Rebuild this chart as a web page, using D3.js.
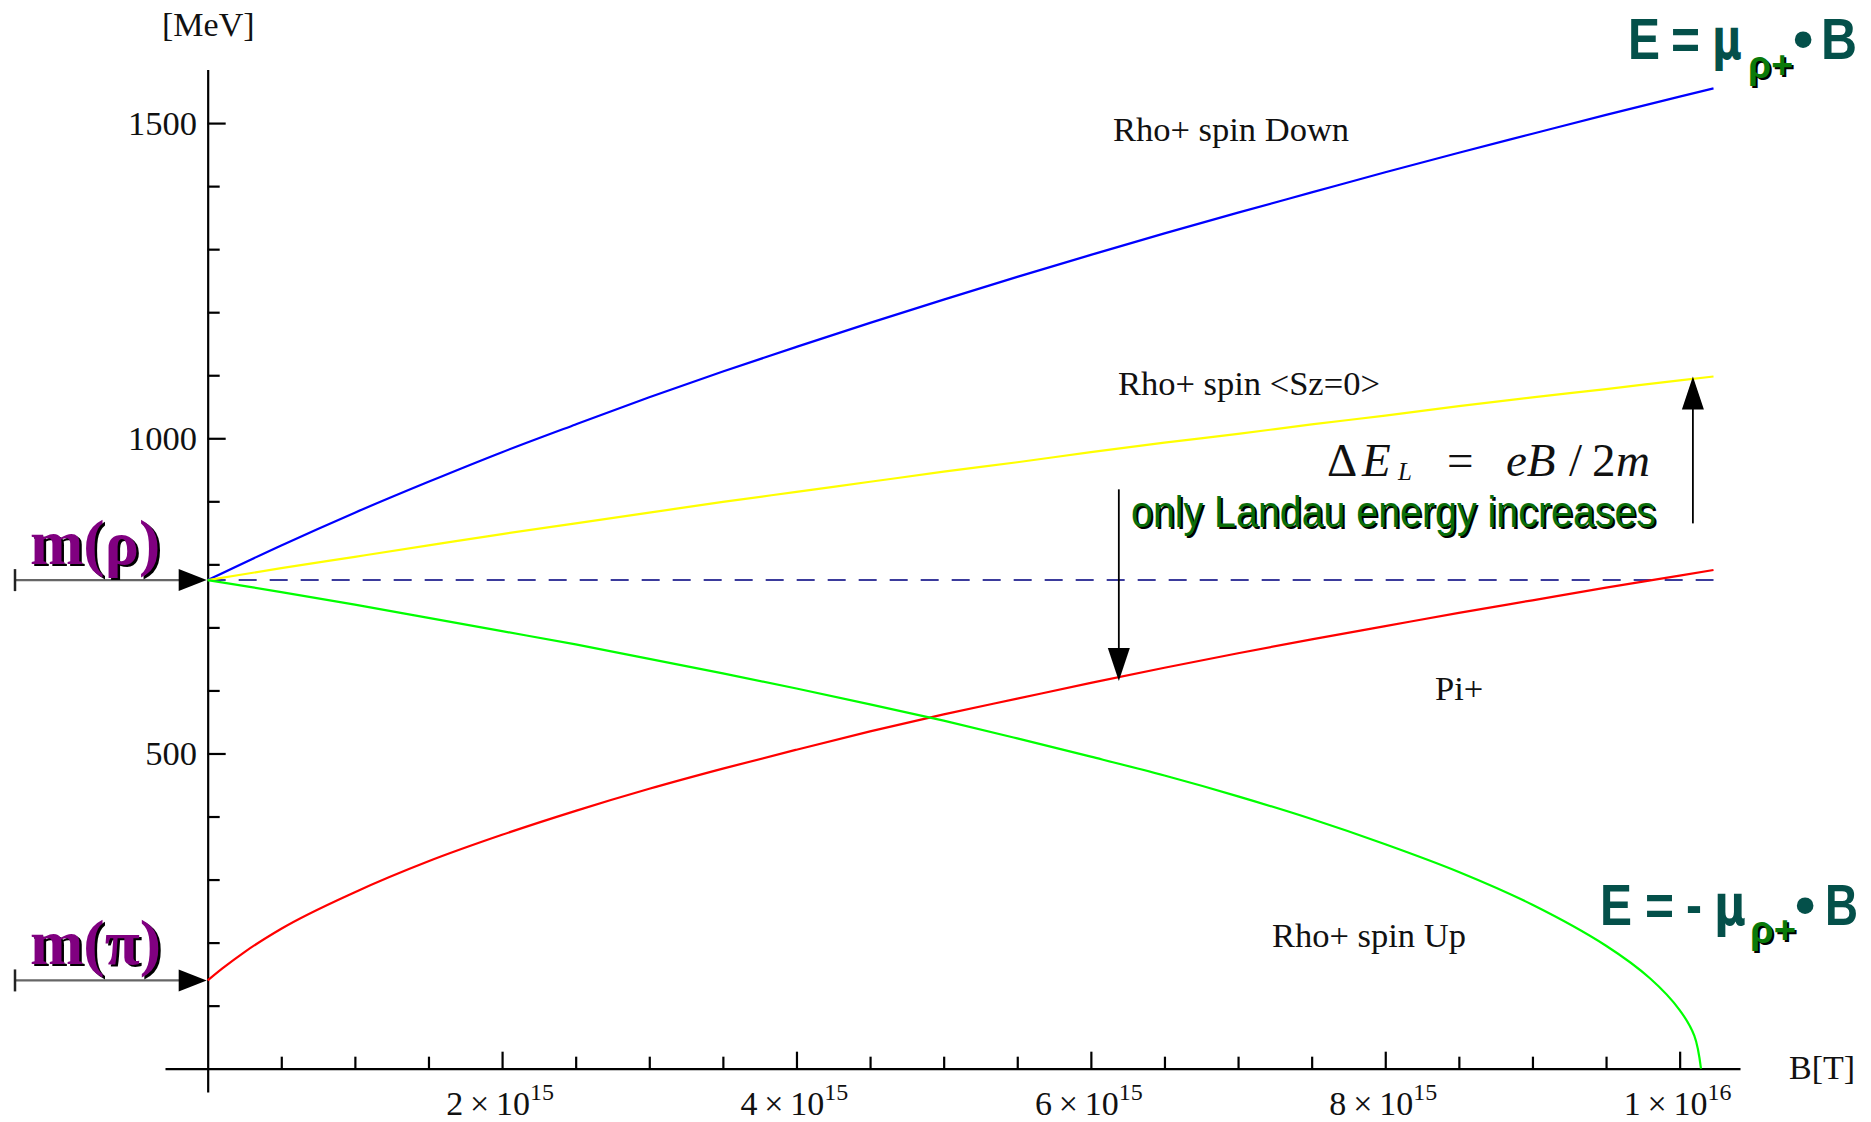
<!DOCTYPE html>
<html><head><meta charset="utf-8">
<script src="https://cdn.jsdelivr.net/npm/d3@7"></script>
<style>
html,body{margin:0;padding:0;background:#fff;}
svg{display:block;}
</style></head>
<body>
<svg id="chart" width="1871" height="1122"></svg>
<script>
// ---- data (B in units of 1e15 T, energies in MeV) ----
const bGrid = [0,0.5,1,1.5,2,2.5,3,3.5,4,4.5,5,5.5,6,6.5,7,7.5,8,8.5,9,9.5,10,10.23];
const rhoSpinDown = [775,830,882,931,978,1022,1065,1106,1145,1183,1220,1256,1291,1325,1358,1390,1422,1453,1483,1513,1542,1555];
const rhoSpinZero = [775,794,812,830,848,865,882,899,915,931,947,962,978,993,1007,1022,1036,1051,1065,1078,1092,1098];
const piPlusB = [0,0.1,0.25,0.5,1,1.5,2,2.5,3,3.5,4,4.5,5,5.5,6,6.5,7,7.5,8,8.5,9,9.5,10,10.23];
const piPlus = [140,159,185,222,280,329,371,409,444,476,506,535,562,587,612,636,659,681,702,723,743,763,782,791];
const upB = [0,0.5,1,1.5,2,2.5,3,3.5,4,4.5,5,5.5,6,6.5,7,7.5,8,8.5,9,9.5,9.8,10,10.1,10.145];
const rhoSpinUp = [775,756,736,715,694,673,650,627,603,578,552,524,495,465,432,396,356,312,260,195,143,93,52,0];
const rhoMass = 775;
const piMass = 140;
const xMajorTicks = [2,4,6,8,10];
const xTickBase = ["2","4","6","8","1"];
const xTickExp = ["15","15","15","15","16"];
const xMinorTicks = [0.5,1,1.5,2.5,3,3.5,4.5,5,5.5,6.5,7,7.5,8.5,9,9.5];
const yMajorTicks = [500,1000,1500];
const yMinorTicks = [100,200,300,400,600,700,800,900,1100,1200,1300,1400];

const svg = d3.select("#chart");
const x = d3.scaleLinear().domain([-0.29, 10.41]).range([165, 1740]);
const y = d3.scaleLinear().domain([-37, 1585]).range([1092, 69.5]);

const serif = "'Liberation Serif','Times New Roman',serif";
const sans = "'Liberation Sans',Arial,sans-serif";

// ---- axes ----
const xAxisG = svg.append("g").attr("transform", `translate(0,${y(0)})`);
xAxisG.call(d3.axisTop(x).tickValues(xMajorTicks).tickSize(17).tickSizeOuter(0).tickFormat(""));
const xMinorG = svg.append("g").attr("transform", `translate(0,${y(0)})`);
xMinorG.call(d3.axisTop(x).tickValues(xMinorTicks).tickSize(12).tickSizeOuter(0).tickFormat(""));
xMinorG.select(".domain").remove();

const yAxisG = svg.append("g").attr("transform", `translate(${x(0)},0)`);
yAxisG.call(d3.axisRight(y).tickValues(yMajorTicks).tickSize(18).tickSizeOuter(0).tickFormat(""));
const yMinorG = svg.append("g").attr("transform", `translate(${x(0)},0)`);
yMinorG.call(d3.axisRight(y).tickValues(yMinorTicks).tickSize(12).tickSizeOuter(0).tickFormat(""));
yMinorG.select(".domain").remove();

svg.selectAll(".domain").attr("stroke", "#000").attr("stroke-width", 2.2);
svg.selectAll(".tick line").attr("stroke", "#000").attr("stroke-width", 2.2);

// y tick labels
svg.append("g").selectAll("text").data(yMajorTicks).join("text")
  .attr("x", 197).attr("y", d => y(d) + 12)
  .attr("text-anchor", "end")
  .attr("font-family", serif).attr("font-size", 34.5).attr("fill", "#111")
  .text(d => d);

// x tick labels
const xl = svg.append("g").selectAll("text").data(xMajorTicks).join("text")
  .attr("x", d => x(d) - 2).attr("y", 1115)
  .attr("text-anchor", "middle")
  .attr("font-family", serif).attr("font-size", 34).attr("fill", "#111");
xl.append("tspan").text((d, i) => xTickBase[i] + "\u2009\u00d7\u200910");
xl.append("tspan").attr("dy", -15).attr("font-size", 24).text((d, i) => xTickExp[i]);

// axis titles
svg.append("text").attr("x", 162).attr("y", 36)
  .attr("font-family", serif).attr("font-size", 34).attr("fill", "#111").text("[MeV]");
svg.append("text").attr("x", 1789).attr("y", 1079)
  .attr("font-family", serif).attr("font-size", 34).attr("fill", "#111").text("B[T]");

// ---- dashed rho mass line ----
svg.append("line")
  .attr("x1", x(0)).attr("x2", x(10.23))
  .attr("y1", y(rhoMass)).attr("y2", y(rhoMass))
  .attr("stroke", "#3b3b9c").attr("stroke-width", 2)
  .attr("stroke-dasharray", "18,13");

// ---- curves ----
const line = d3.line().x(d => x(d[0])).y(d => y(d[1])).curve(d3.curveMonotoneX);
function drawCurve(bs, vs, color) {
  svg.append("path").datum(bs.map((b, i) => [b, vs[i]]))
    .attr("d", line).attr("fill", "none")
    .attr("stroke", color).attr("stroke-width", 2.2);
}
drawCurve(bGrid, rhoSpinDown, "#0000ff");
drawCurve(bGrid, rhoSpinZero, "#ffff00");
drawCurve(piPlusB, piPlus, "#ff0000");
svg.append("path").datum(upB.map((b, i) => [b, rhoSpinUp[i]]))
  .attr("d", d3.line().x(d => x(d[0])).y(d => y(d[1])).curve(d3.curveCatmullRom))
  .attr("fill", "none").attr("stroke", "#00ff00").attr("stroke-width", 2.2);

// ---- curve labels ----
function label(txt, px, py) {
  svg.append("text").attr("x", px).attr("y", py)
    .attr("font-family", serif).attr("font-size", 34.5).attr("fill", "#111").text(txt);
}
label("Rho+ spin Down", 1113, 141);
label("Rho+ spin <Sz=0>", 1118, 395);
label("Pi+", 1435, 700);
label("Rho+ spin Up", 1272, 947);

// ---- mass arrows on the left ----
function massArrow(val, txt) {
  const yy = y(val);
  const g = svg.append("g");
  g.append("line").attr("x1", 15).attr("x2", 185).attr("y1", yy).attr("y2", yy)
    .attr("stroke", "#666").attr("stroke-width", 2.2);
  g.append("line").attr("x1", 15).attr("x2", 15).attr("y1", yy - 11).attr("y2", yy + 11)
    .attr("stroke", "#222").attr("stroke-width", 2.5);
  g.append("path").attr("d", `M${x(0) - 1},${yy} L${x(0) - 29},${yy - 11} L${x(0) - 29},${yy + 11} Z`)
    .attr("fill", "#000");
  const ty = yy - 16;
  g.append("text").attr("x", 32.5).attr("y", ty + 2)
    .attr("font-family", serif).attr("font-weight", "bold").attr("font-size", 64)
    .attr("fill", "#000").text(txt);
  g.append("text").attr("x", 30).attr("y", ty)
    .attr("font-family", serif).attr("font-weight", "bold").attr("font-size", 64)
    .attr("fill", "#800080").text(txt);
}
massArrow(rhoMass, "m(\u03c1)");
massArrow(piMass, "m(\u03c0)");

// ---- vertical annotation arrows ----
function vArrow(xv, yFrom, yTo) {
  const px = x(xv), y1 = y(yFrom), y2 = y(yTo);
  const dir = y2 < y1 ? 1 : -1;
  svg.append("line").attr("x1", px).attr("x2", px).attr("y1", y1).attr("y2", y2 + dir * 28)
    .attr("stroke", "#000").attr("stroke-width", 1.8);
  svg.append("path").attr("d", `M${px},${y2} L${px - 11},${y2 + dir * 33} L${px + 11},${y2 + dir * 33} Z`)
    .attr("fill", "#000");
}
vArrow(10.09, 865, 1098);
vArrow(6.19, 919, 615);

// ---- Delta E formula ----
const fm = svg.append("g").attr("font-family", serif).attr("font-size", 47).attr("fill", "#111");
fm.append("text").attr("x", 1327).attr("y", 476).text("\u0394");
fm.append("text").attr("x", 1362).attr("y", 476).attr("font-style", "italic").text("E");
fm.append("text").attr("x", 1398).attr("y", 480).attr("font-style", "italic").attr("font-size", 25).text("L");
fm.append("text").attr("x", 1447).attr("y", 476).text("=");
fm.append("text").attr("x", 1506).attr("y", 476).attr("font-style", "italic").text("eB");
fm.append("text").attr("x", 1569).attr("y", 476).text("/");
fm.append("text").attr("x", 1592).attr("y", 476).text("2");
fm.append("text").attr("x", 1616).attr("y", 476).attr("font-style", "italic").text("m");

// ---- shadowed text helper ----
function shadowText(txt, px, py, size, color, opts) {
  const mk = (dx, dy, fill) => {
    const t = svg.append("text").attr("x", px + dx).attr("y", py + dy)
      .attr("font-family", opts.family || sans).attr("font-size", size)
      .attr("font-weight", opts.weight || "normal").attr("fill", fill).text(txt);
    if (opts.len) t.attr("textLength", opts.len).attr("lengthAdjust", "spacingAndGlyphs");
  };
  mk(2, 2, "#000");
  mk(0, 0, color);
}
shadowText("only Landau energy increases", 1131, 527, 45, "#0a6e0a", {len: 525});

// ---- E = mu . B labels ----
function muLabel(parts, base, subBase) {
  const teal = "#04504a";
  parts.forEach(p => {
    if (p.sub) {
      shadowText(p.t, p.x, subBase, 38, "#0a7a0a", {weight: "bold", len: p.len});
    } else {
      const t = svg.append("text").attr("x", p.x).attr("y", base)
        .attr("font-family", p.family || sans).attr("font-weight", "bold")
        .attr("font-size", p.size || 58).attr("fill", teal).text(p.t);
      if (p.len) t.attr("textLength", p.len).attr("lengthAdjust", "spacingAndGlyphs");
    }
  });
}
muLabel([
  {t: "E", x: 1628, len: 32},
  {t: "=", x: 1671, len: 29},
  {t: "\u03bc", x: 1712, family: "'DejaVu Sans',sans-serif", size: 56, len: 30},
  {t: "\u03c1+", x: 1748, sub: true, len: 45},
  {t: "\u2022", x: 1793},
  {t: "B", x: 1821, len: 36}
], 59, 78);
muLabel([
  {t: "E", x: 1600, len: 32},
  {t: "=", x: 1645, len: 29},
  {t: "-", x: 1686, len: 16},
  {t: "\u03bc", x: 1714, family: "'DejaVu Sans',sans-serif", size: 56, len: 32},
  {t: "\u03c1+", x: 1750, sub: true, len: 46},
  {t: "\u2022", x: 1795},
  {t: "B", x: 1825, len: 33}
], 925, 943);
</script>
</body></html>
